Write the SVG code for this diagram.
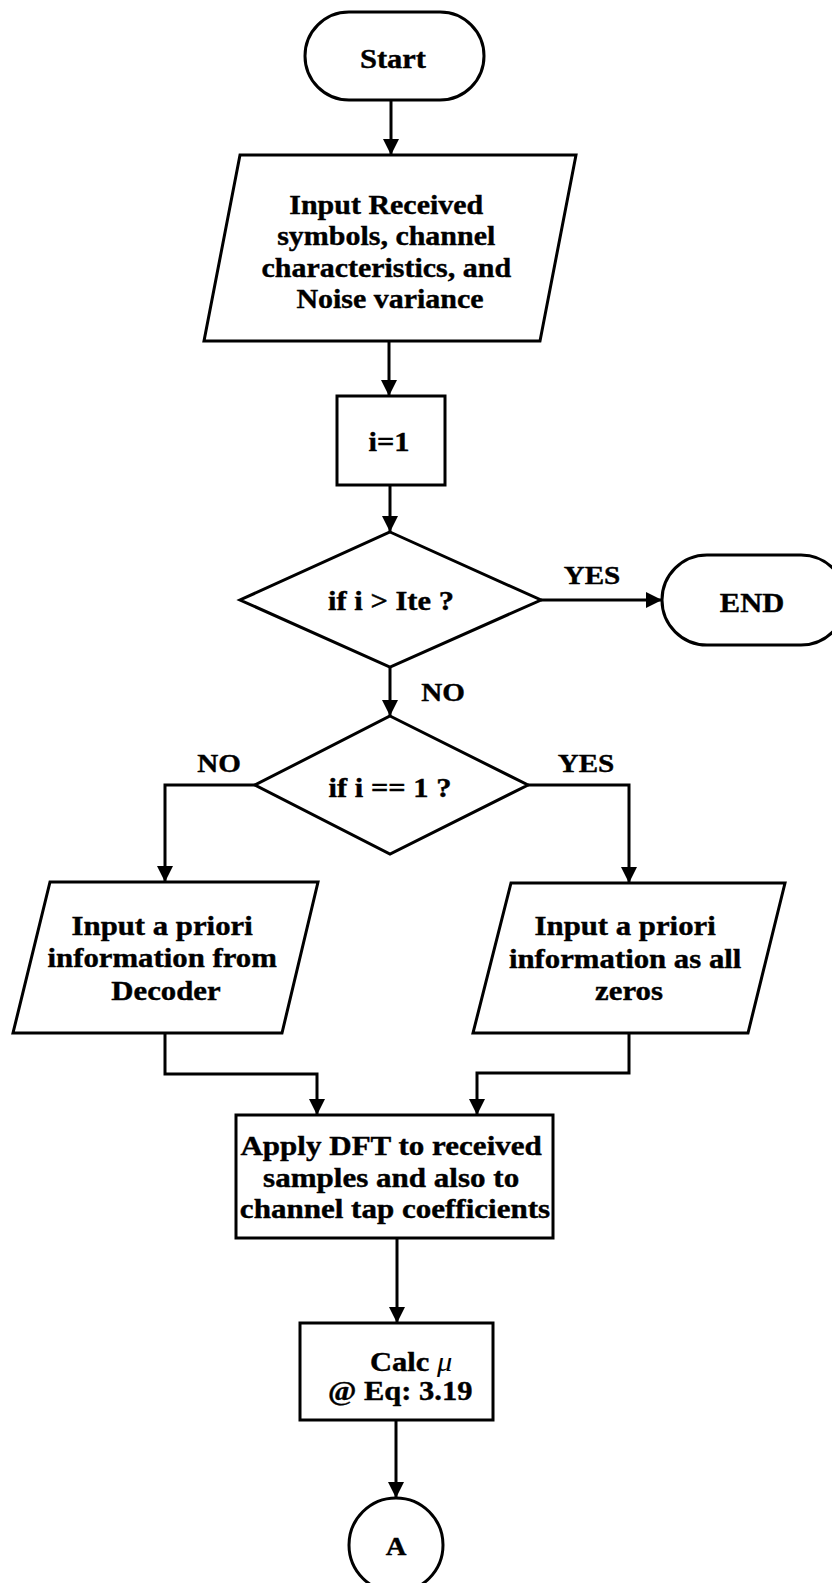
<svg xmlns="http://www.w3.org/2000/svg" width="832" height="1583" viewBox="0 0 832 1583">
  <style>
    .shape { fill: #ffffff; stroke: #000000; stroke-width: 3; stroke-linejoin: miter; }
    .wire { fill: none; stroke: #000000; stroke-width: 3; }
    .arrow { marker-end: url(#head); }
    .t { font-family: "Liberation Serif", "Times New Roman", serif; font-weight: bold; font-size: 27px; fill: #000000; stroke: #000000; stroke-width: 0.4; text-anchor: middle; }
    .lbl { font-family: "Liberation Serif", "Times New Roman", serif; font-weight: bold; font-size: 26px; fill: #000000; stroke: #000000; stroke-width: 0.4; text-anchor: middle; }
    .greek { font-style: italic; font-weight: normal; stroke-width: 0; }
  </style>
  <defs>
    <marker id="head" markerUnits="userSpaceOnUse" markerWidth="17" markerHeight="17" refX="16" refY="8" orient="auto">
      <path d="M0,0 L16,8 L0,16 Z" fill="#000000"/>
    </marker>
  </defs>

  <rect width="832" height="1583" fill="#ffffff"/>

  <!-- connectors -->
  <g id="connectors">
    <path class="wire arrow" d="M391,100 L391,155"/>
    <path class="wire arrow" d="M389,341 L389,396"/>
    <path class="wire arrow" d="M390,485 L390,532"/>
    <path class="wire arrow" d="M541,600 L662,600"/>
    <path class="wire arrow" d="M390,667 L390,716"/>
    <path class="wire arrow" d="M255,785 L165,785 L165,882"/>
    <path class="wire arrow" d="M528,785 L629,785 L629,883"/>
    <path class="wire arrow" d="M165,1033 L165,1074 L317,1074 L317,1115"/>
    <path class="wire arrow" d="M629,1033 L629,1073 L477,1073 L477,1115"/>
    <path class="wire arrow" d="M397,1238 L397,1323"/>
    <path class="wire arrow" d="M396,1420 L396,1498"/>
    <text class="lbl" transform="translate(592 0) scale(1.12 1)" x="0" y="584">YES</text>
    <text class="lbl" transform="translate(443 0) scale(1.12 1)" x="0" y="701">NO</text>
    <text class="lbl" transform="translate(219 0) scale(1.12 1)" x="0" y="772">NO</text>
    <text class="lbl" transform="translate(586 0) scale(1.12 1)" x="0" y="772">YES</text>
  </g>

  <!-- start terminator -->
  <g id="start">
    <rect class="shape" x="305" y="12" width="179" height="88" rx="44" ry="44"/>
    <text class="t" transform="translate(393 0) scale(1.13 1)" x="0" y="68">Start</text>
  </g>

  <!-- input data -->
  <g id="input-data">
    <polygon class="shape" points="240,155 576,155 540,341 204,341"/>
    <text class="t" transform="translate(390 0) scale(1.11 1)">
      <tspan x="0" y="214">Input Received</tspan>
      <tspan x="0" y="245">symbols, channel</tspan>
      <tspan x="0" y="277">characteristics, and</tspan>
      <tspan x="0" y="308">Noise variance</tspan>
    </text>
  </g>

  <!-- counter init -->
  <g id="init">
    <rect class="shape" x="337" y="396" width="108" height="89"/>
    <text class="t" transform="translate(389 0) scale(1.13 1)" x="0" y="451">i=1</text>
  </g>

  <!-- iteration check -->
  <g id="check-ite">
    <polygon class="shape" points="390,532 541,600 390,667 240,600"/>
    <text class="t" transform="translate(391 0) scale(1.13 1)" x="0" y="610">if i &gt; Ite ?</text>
  </g>

  <!-- end terminator -->
  <g id="end">
    <rect class="shape" x="662" y="555" width="184" height="90" rx="45" ry="45"/>
    <text class="t" transform="translate(752 0) scale(1.13 1)" x="0" y="612">END</text>
  </g>

  <!-- first iteration check -->
  <g id="check-first">
    <polygon class="shape" points="390,716 528,785 390,854 255,785"/>
    <text class="t" transform="translate(390 0) scale(1.13 1)" x="0" y="797">if i == 1 ?</text>
  </g>

  <!-- a priori from decoder -->
  <g id="apriori-decoder">
    <polygon class="shape" points="50,882 318,882 282,1033 13,1033"/>
    <text class="t" transform="translate(166 0) scale(1.14 1)">
      <tspan x="0" y="935">Input a priori</tspan>
      <tspan x="0" y="967">information from</tspan>
      <tspan x="0" y="1000">Decoder</tspan>
    </text>
  </g>

  <!-- a priori zeros -->
  <g id="apriori-zeros">
    <polygon class="shape" points="511,883 785,883 748,1033 473,1033"/>
    <text class="t" transform="translate(629 0) scale(1.14 1)">
      <tspan x="0" y="935">Input a priori</tspan>
      <tspan x="0" y="968">information as all</tspan>
      <tspan x="0" y="1000">zeros</tspan>
    </text>
  </g>

  <!-- DFT step -->
  <g id="dft">
    <rect class="shape" x="236" y="1115" width="317" height="123"/>
    <text class="t" transform="translate(395 0) scale(1.15 1)">
      <tspan x="0" y="1155">Apply DFT to received</tspan>
      <tspan x="0" y="1187">samples and also to</tspan>
      <tspan x="0" y="1218">channel tap coefficients</tspan>
    </text>
  </g>

  <!-- mu calculation -->
  <g id="calc-mu">
    <rect class="shape" x="300" y="1323" width="193" height="97"/>
    <text class="t" style="text-anchor:start" transform="translate(370 0) scale(1.13 1)" x="0" y="1371">Calc <tspan class="greek">μ</tspan></text>
    <text class="t" style="text-anchor:start" transform="translate(328 0) scale(1.13 1)" x="0" y="1400">@ Eq: 3.19</text>
  </g>

  <!-- off-page connector -->
  <g id="connector-a">
    <circle class="shape" cx="396" cy="1545" r="47"/>
    <text class="t" style="font-size:26px" transform="translate(396 0) scale(1.1 1)" x="0" y="1555">A</text>
  </g>
</svg>
